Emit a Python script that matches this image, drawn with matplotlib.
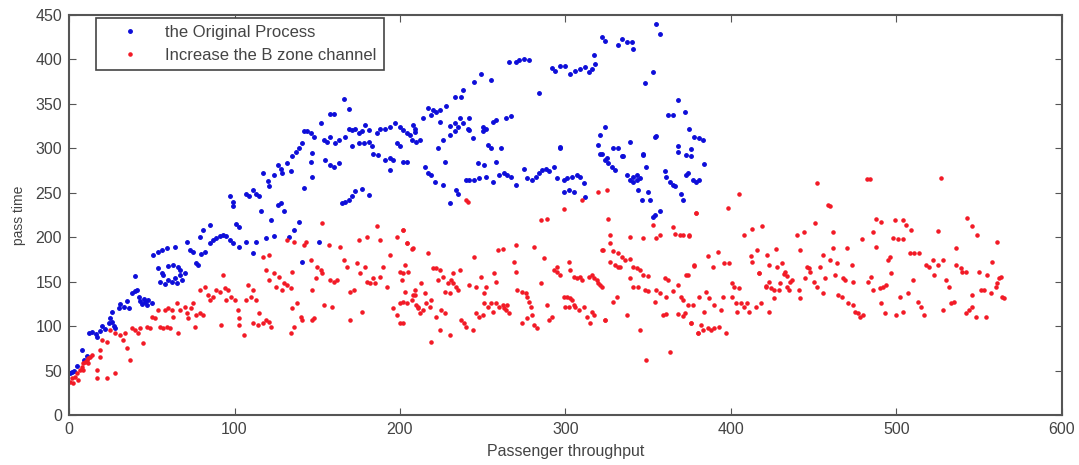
import matplotlib
matplotlib.use("Agg")
from matplotlib import pyplot as plt

# the Original Process (blue)
blue_x = [0.5, 1.5, 3, 5, 7.7, 9, 11, 12, 14, 16, 17, 19, 20, 22, 24, 26, 27, 28, 25, 26, 30, 31, 33, 35, 36, 38, 40, 40,
          41, 42, 43, 44, 45, 46, 47, 48, 50, 51, 54, 56, 59, 54, 56, 55, 57, 58, 60, 62, 64, 65, 67, 68, 66, 60, 63, 64, 67, 70,
          71, 73, 75, 77, 78, 79, 80, 82, 81, 85, 85, 87, 89, 91, 93, 95, 97, 99, 103, 107, 111, 113, 119, 124, 97, 99, 99, 101,
          103, 107, 109, 111, 113, 115, 116, 117, 120, 121, 124, 122,
          126, 128, 129, 126, 128, 130, 132, 134, 135, 137, 139, 141, 142, 144, 146, 148, 147, 146, 147, 142, 139, 136, 152, 154,
          156, 158, 155, 158, 160, 163, 158, 160, 166, 169, 161, 163, 167, 169, 165, 167, 169, 171, 173, 177, 181, 141, 133, 151,
          171, 173, 175, 177, 179, 181, 171, 175, 178, 181, 183, 184, 187, 191, 194, 196, 200, 198, 186, 188, 191, 194, 197, 200,
          202, 204, 207, 209, 194, 202, 206, 208, 210, 212, 209, 204,
          214, 217, 219, 220, 222, 224, 228, 224, 233, 237, 238, 245, 249, 255, 266, 270, 272, 275, 278, 284, 292, 294, 297, 300,
          303, 306, 309, 312, 314, 316, 318, 317, 322, 324, 332, 334, 337, 340, 341, 355, 357, 348, 353, 368,
          233, 230, 236, 242, 250, 256, 258, 264, 267,
          223, 226, 230, 233, 235, 238, 241, 242, 244, 250, 252, 253, 255, 258, 261, 247, 251, 215, 217, 219, 221, 226, 227, 234,
          235, 230, 240, 242, 245, 248, 252, 256, 260, 263, 265, 267, 270, 275, 277, 280, 282, 284, 286, 288, 290, 293, 295, 299,
          301, 304, 307, 309, 311, 299, 302, 305, 312, 297,
          324, 321, 320, 322, 324, 326, 328, 330, 329, 332, 335, 339, 337, 339, 341, 343, 345, 344, 347, 349, 350, 346, 351, 354,
          360, 361, 363, 365, 357, 354, 362, 365, 368, 372, 375, 378, 381, 383, 376, 368, 373, 355, 347, 321, 325, 334, 341, 343,
          366, 370, 371, 373, 377, 376, 384, 374, 379, 381, 353, 297]
blue_y = [47, 48, 50, 55, 73, 62, 66, 92, 93, 91, 88, 95, 100, 97, 103, 105, 100, 98, 109, 116, 120, 125, 122, 128, 120, 137, 140, 156,
          141, 133, 128, 125, 131, 127, 124, 129, 126, 180, 183, 186, 188, 165, 160, 150, 157, 147, 152, 150, 154, 148, 157, 152, 166, 168, 169, 189, 163, 160,
          195, 186, 183, 171, 169, 200, 181, 183, 208, 214, 193, 197, 199, 201, 203, 201, 197, 193, 189, 195, 182, 195, 199, 201, 246, 240, 235, 215,
          211, 249, 246, 253, 249, 246, 229, 272, 263, 257, 270, 219,
          281, 277, 272, 236, 238, 229, 283, 274, 291, 296, 300, 306, 319, 319, 317, 313, 295, 285, 268, 255, 217, 208, 328, 309,
          307, 313, 287, 281, 279, 283, 339, 338, 355, 344, 306, 309, 313, 322, 238, 240, 242, 246, 252, 254, 247, 172, 200, 195,
          321, 322, 317, 319, 326, 321, 302, 306, 306, 307, 302, 294, 292, 287, 289, 287, 302, 306, 317, 322, 322, 324, 328, 324,
          321, 317, 309, 322, 276, 285, 315, 326, 307, 309, 318, 285,
          334, 345, 337, 343, 341, 343, 347, 329, 358, 358, 365, 375, 384, 377, 397, 397, 399, 400, 399, 362, 390, 387, 392, 393,
          384, 387, 389, 391, 386, 389, 395, 405, 425, 421, 416, 423, 420, 420, 412, 440, 429, 373, 386, 354,
          328, 325, 334, 334, 324, 330, 332, 334, 336,
          300, 309, 315, 319, 324, 328, 322, 321, 311, 319, 322, 304, 300, 285, 300, 283, 281, 279, 272, 270, 262, 259, 285, 253,
          249, 238, 264, 264, 264, 266, 268, 262, 270, 272, 270, 268, 259, 277, 266, 264, 268, 272, 275, 277, 274, 279, 266, 264,
          266, 268, 270, 268, 261, 251, 253, 251, 245, 300,
          324, 315, 304, 294, 287, 283, 279, 275, 300, 300, 291, 307, 270, 264, 262, 270, 266, 253, 292, 279, 251, 242, 242, 313,
          274, 268, 262, 259, 230, 225, 337, 337, 302, 341, 322, 313, 312, 309, 299, 296, 292, 314, 293, 294, 289, 291, 268, 264,
          257, 249, 242, 270, 264, 291, 282, 272, 262, 264, 223, 301]

# Increase the B zone channel (red)
red_x = [0.6, 2.6, 3.6, 4.6, 6.6, 7.6, 8.7, 9.7, 10.7, 11.7, 12.7, 13.7, 11.7, 8.7, 5.6, 1.6, 16.7, 16.7, 22.7, 27.8,
         18.7, 18.7, 19.7, 22.7, 24.8, 27.8, 30.8, 32.8, 34.8, 36.8, 33.8, 37.9, 39.9, 41.9, 42.9, 44.9, 46.9, 48.9, 49.9, 52,
         54, 55, 57, 58, 60, 62, 59, 61, 63, 65, 66, 67, 70, 71, 74, 72, 75, 76, 77, 79, 81, 79, 82, 84, 85, 87, 89, 91, 92, 93,
         94, 96, 95, 98, 100, 102, 103, 103, 106, 107, 108, 110, 111, 113, 115, 111, 114, 117, 119, 121, 122, 117, 121, 119, 121,
         124, 125, 127, 129, 130, 132, 134, 132, 136, 135, 135, 138, 134, 136, 140, 141, 143, 142, 146, 147, 149, 150, 152, 153,
         148, 147, 154, 157, 159, 158, 160, 162, 164, 166, 168, 170, 172, 170, 174, 176, 175, 177, 179, 180, 182, 184, 185, 188,
         188, 190, 192, 194, 196, 198, 198, 200, 201, 202, 202, 203, 204, 205, 207, 209, 211, 208, 153, 186, 202, 180,
         240, 241, 202, 204, 207, 217, 245, 259, 262, 270, 281, 285, 289, 299, 320, 325, 310, 326, 322, 327, 327, 339, 347, 355,
         357, 353, 365, 366, 371, 375, 379, 329, 332, 334, 336, 339, 341, 343, 345, 347, 350, 339, 341, 344, 360, 362, 368, 373,
         378, 365, 370, 377, 374, 348, 350, 331, 329, 337, 324, 345, 349, 363, 359, 361, 368, 371, 376, 380, 354, 355, 357, 361,
         202, 203, 200, 200, 204, 208, 209, 210, 211, 212, 214, 215, 213, 216, 218, 219, 220, 222, 224, 223, 226, 227, 229, 231,
         232, 234, 235, 236, 230, 232, 225, 227, 222, 224, 230, 219, 237, 239, 240, 244, 242, 246, 249, 251, 252, 253, 255, 256,
         258, 260, 262, 264, 266, 257, 258, 246, 248, 250, 251, 269, 270, 271, 274, 276, 277, 278, 279, 280, 274, 277, 281, 283,
         285, 287, 289, 290, 292, 293, 295, 297, 299, 301, 303, 304, 305, 306, 308, 309, 310, 311, 313, 315, 316, 317, 319, 320,
         321, 322, 323, 324, 327, 330, 332, 333, 302, 303, 305, 307, 302, 300, 295, 314, 316, 317, 263, 265,
         452, 482, 484, 527, 405, 398, 379, 459, 460, 451, 408, 413, 419, 440, 444, 462, 479, 486, 488, 491, 499, 504, 506, 509,
         498, 501, 504, 525, 543, 546, 549, 561, 369, 375, 386, 389, 392, 396, 399, 378, 374, 412, 413, 416, 422, 423, 427, 428,
         417, 423, 426, 424, 421, 429, 430, 432, 431, 433, 434, 436, 434, 435, 437,
         442, 441, 442, 445, 446, 447, 448, 450, 452, 454, 456, 457, 456, 460, 462, 464, 463, 465, 467, 468, 469, 470, 473, 474,
         471, 474, 475, 477, 478, 480, 483, 485, 486, 488, 490, 492, 494, 496, 495, 497, 491, 493, 500, 502, 504, 507, 510, 508,
         511, 514, 513, 515, 517, 518, 520, 522, 523, 525, 528, 530, 532, 528, 533, 535, 536, 536, 539, 540, 542, 542, 544, 546,
         548, 546, 550, 551, 553, 554, 555, 557, 558, 560, 561, 562, 563, 564, 565,
         371, 372, 376, 380, 382, 383, 386, 388, 390, 393, 397, 384, 381, 387, 385, 390, 394, 395, 401, 402, 405, 401, 403, 404,
         406, 410, 411, 408, 415, 418, 423, 426, 421, 417]
red_y = [37.5, 35.6, 43.1, 46.9, 50.6, 54.4, 58.1, 60, 61.9, 63.7, 65.6, 67.5, 58.1, 50.6, 39.4, 41.2, 50.6, 41.2, 41.2, 47.6,
         65.6, 73.1, 84.4, 82.5, 95.6, 91.9, 90, 84.4, 75, 61.9, 91.9, 97.5, 95.6, 91.9, 97.5, 80.6, 99.4, 97.5, 110.6, 108.7,
         118.1, 99.4, 97.5, 118.1, 120, 118.1, 99.4, 97.5, 110.6, 125.6, 91.9, 118.1, 121.9, 114.4, 120, 108.7, 125.6, 99.4, 112.5, 114.4, 112.5, 140.6, 144.4, 135, 129.4, 133.1, 140.6, 138.7, 101.2, 157.5,
         142.5, 140.6, 129.4, 133.1, 129.4, 118.1, 108.7, 101.2, 90, 129.4, 146.2, 133.1, 140.6, 129.4, 114.4, 103.1, 101.2, 103.1, 106.9, 105, 99.4, 178.1, 180, 163.1, 151.9,
         159.4, 144.4, 155.6, 140.6, 148.1, 146.2, 142.5, 196.8, 195, 161.2, 120, 125.6, 91.9, 99.4, 110.6, 106.9, 195, 191.2, 174.4, 140.6, 153.7, 166.9, 163.1, 159.4,
         108.7, 106.9, 123.7, 191.2, 121.9, 151.9, 150, 151.9, 189.3, 174.4, 166.9, 138.7, 140.6, 106.9, 170.6, 159.4, 196.8, 116.2, 166.9, 150, 148.1, 153.7, 148.1, 196.8,
         155.6, 166.9, 144.4, 180, 120, 112.5, 200.6, 161.2, 151.9, 103.1, 127.5, 138.7, 193.1, 161.2, 129.4, 135, 121.9, 187.5, 216, 213, 208, 200,
         242, 240, 208, 193, 187, 182, 178, 186, 187, 191, 189, 219, 221, 232, 251, 253, 242, 221, 186, 202, 193, 200, 199, 199,
         202, 214, 212, 204, 202, 202, 227, 184, 182, 178, 174, 176, 167, 165, 163, 157, 156, 154, 144, 144, 154, 152, 146, 157,
         169, 139, 133, 124, 124, 141, 139, 133, 127, 112, 107, 96, 62, 71, 112, 114, 114, 111, 103, 92, 127, 141, 137, 133,
         159.4, 168.7, 125.6, 103.1, 125.6, 135, 140.6, 123.7, 120, 114.4, 118.1, 136.9, 148.1, 125.6, 121.9, 129.4, 165, 165, 163.1, 151.9, 155.6, 138.7, 148.1, 151.9,
         148.1, 144.4, 140.6, 163.1, 136.9, 159.4, 118.1, 114.4, 110.6, 95.6, 90, 82.5, 106.9, 103.1, 99.4, 95.6, 146.2, 144.4, 155.6, 136.9, 144.4, 121.9, 125.6, 116.2,
         125.6, 121.9, 123.7, 118.1, 114.4, 159.4, 150, 114.4, 110.6, 112.5, 125.6, 172.5, 161.2, 140.6, 138.7, 136.9, 133.1, 127.5, 121.9, 112.5, 103.1, 108.7, 101.2, 97.5,
         148.1, 176.2, 123.7, 106.9, 110.6, 163.1, 161.2, 157.5, 133.1, 133.1, 131.2, 129.4, 123.7, 121.9, 118.1, 155.6, 151.9, 121.9, 110.6, 103.1, 116.2, 112.5, 151.9, 148.1,
         146.2, 144.4, 185.6, 106.9, 172.5, 168.7, 166.9, 166.9, 172.5, 163.1, 155.6, 153.7, 121.9, 121.9, 166.9, 155.6, 157.5, 153.7, 120, 123.7,
         261.4, 265, 265, 267, 248, 233, 227, 236, 235, 216, 203, 209, 213, 202, 206, 206, 198, 206, 220, 217, 219, 219, 214, 208,
         199, 198, 198, 207, 222, 213, 202, 195, 203, 201, 179, 167, 183, 171, 171, 168, 157, 179, 172, 186, 180, 169, 187, 167,
         160, 150, 141, 143, 145, 141, 148, 159, 171, 161, 156, 150, 144, 141, 152,
         185.6, 140.6, 131.2, 153.7, 166.9, 165, 161.2, 150, 144.4, 166.9, 180, 153.7, 136.9, 174.4, 187.5, 170.6, 157.5, 135, 133.1, 153.7, 151.9, 187.5, 168.7, 150,
         125.6, 123.7, 116.2, 114.4, 110.6, 112.5, 150, 155.6, 140.6, 189.4, 142.5, 144.4, 146.2, 178.1, 174.4, 159.4, 125.6, 114.4, 112.5, 133.1, 116.2, 136.9, 151.9, 181.9,
         181.9, 181.9, 127.5, 121.9, 112.5, 168.7, 166.9, 174.4, 157.5, 168.7, 174.4, 151.9, 144.4, 118.1, 125.6, 127.5, 187.5, 168.7, 165, 161.2, 161.2, 114.4, 118.1, 121.9,
         110.6, 135, 161.2, 140.6, 140.6, 110.6, 157.5, 136.9, 172.5, 144.4, 148.1, 153.7, 155.6, 133.1, 131.2,
         129.4, 114.4, 103.1, 91.9, 101.2, 95.6, 97.5, 95.6, 97.5, 99.4, 91.9, 116.2, 133.1, 131.2, 138.7, 123.7, 118.1, 133.1, 148.1, 144.4, 142.5, 133.1, 125.6, 116.2,
         125.6, 125.6, 116.2, 121.9, 121.9, 125.6, 116.2, 131.2, 144.4, 159.4]

plt.rcParams['font.family'] = ['Liberation Sans', 'DejaVu Sans']

fig = plt.figure(figsize=(10.79, 4.65), dpi=100)
ax = fig.add_axes([0.064, 0.1075, 0.92, 0.8605])

ax.plot(blue_x, blue_y, '.', color=(0.05, 0.05, 0.85), markersize=5, label='the Original Process')
ax.plot(red_x, red_y, '.', color=(0.95, 0.1, 0.15), markersize=4.5, label='Increase the B zone channel')

ax.set_xlim(0, 600)
ax.set_ylim(0, 450)
ax.set_xticks(range(0, 601, 100))
ax.set_yticks(range(0, 451, 50))
ax.tick_params(direction='in', top=True, right=True, length=5, labelsize=11.5, labelcolor='#444444',
               color='#555555', pad=5)
for s in ax.spines.values():
    s.set_color('#555555')
    s.set_linewidth(1.5)

ax.set_xlabel('Passenger throughput', fontsize=11.5, color='#444444', labelpad=5)
ax.set_ylabel('pass time', fontsize=10, color='#444444')
ax.yaxis.set_label_coords(-0.043, 0.5)

leg = ax.legend(loc='upper left', bbox_to_anchor=(0.027, 0.993), borderaxespad=0, fancybox=False,
                edgecolor='#444444', framealpha=1, fontsize=12, handlelength=3.2, handletextpad=0.5,
                borderpad=0.45, labelspacing=0.45, markerscale=1.0)
leg.get_frame().set_linewidth(1.2)
for t in leg.get_texts():
    t.set_color('#444444')

fig.savefig('out.png', dpi=100)
